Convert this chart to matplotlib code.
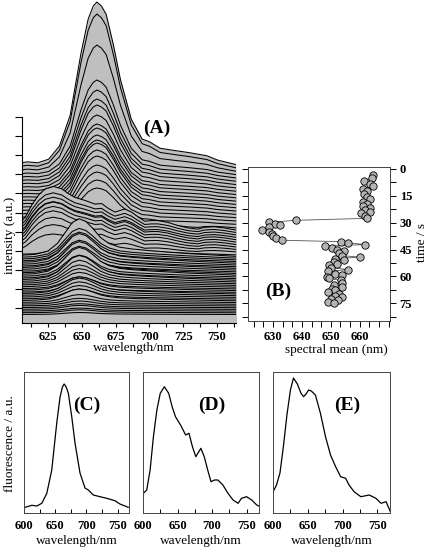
import numpy as np
import matplotlib
matplotlib.use("Agg")
import matplotlib.pyplot as plt
from matplotlib.ticker import MultipleLocator, FixedLocator, NullFormatter

plt.rcParams["font.family"] = ["Liberation Serif", "DejaVu Serif"]

W, H = 427, 549
GRAY_FILL = "#bfbfbf"
SPINE = "#444444"

# ---- single spectra (C), (D), (E) : wavelength (nm) / fluorescence (a.u.)
wl_c = [600, 606, 612.6, 620.5, 628.5, 636.5, 644.4, 652.4, 657.7, 661.5, 664.2,
        667.5, 671, 676.4, 681.6, 689.6, 697.6, 702.9, 710.9, 721.6, 732.3,
        745.5, 753.5, 766.8]
fl_c = [5.3, 6.5, 7.7, 7.0, 9.7, 19.7, 43, 90, 116, 126, 129,
        126, 119.7, 96.3, 70, 40, 25, 23, 18, 16.3, 14.7,
        12.3, 9.0, 5.7]

wl_d = [600.5, 605.4, 610.3, 615.1, 620.1, 625, 630.9, 637.2, 642.2, 647,
        654.4, 661.8, 666.6, 671.6, 676.5, 683.8, 688.7, 693.7, 698.5, 703.4,
        708.4, 715.7, 723.1, 730.4, 737.8, 742.6, 750, 757.4, 764.7, 769.6]
fl_d = [19.7, 23, 43, 76.3, 103, 119.7, 126.3, 119.7, 106.3, 96.3,
        88, 78, 79.7, 66.3, 56.3, 64.7, 56.3, 43, 31.3, 33,
        33, 28, 19.7, 13, 9.7, 14.7, 16.3, 13, 8, 6.3]

wl_e = [600, 605, 610, 614.9, 620, 625, 629.4, 635, 640, 643.9, 647.5, 651.2,
        655, 660.9, 668.1, 675.4, 682.6, 689.9, 697.1, 704.3, 709.2, 716.4,
        726.1, 738.2, 747.8, 755.1, 762.3, 768.6]
fl_e = [21, 28, 40, 66.3, 98, 123, 135, 129, 120, 116.3, 119, 123,
        122, 118, 99.7, 76.3, 58, 46.3, 36.3, 34.7, 28, 21.3,
        16.3, 18, 14.7, 9.7, 11.3, 1.3]

# ---- (A) waterfall: shape of the ~650 nm spectra read from the stack
wl_650 = [600, 615, 625, 632, 638, 643, 648, 653, 658, 664, 670, 678, 688,
          700, 715, 730, 745, 768]
fl_650 = [0.03, 0.06, 0.15, 0.35, 0.65, 0.9, 1.0, 0.93, 0.75, 0.5, 0.35,
          0.25, 0.2, 0.16, 0.12, 0.08, 0.05, 0.0]

# trace phase (0: 660 nm, 1: 628 nm, 2: 650 nm), baseline and peak height
trace_phase = [0] * 19 + [1] * 11 + [2] * 36
trace_base = [158, 154.7, 151.4, 148.1, 144.8, 141.5, 138.2, 134.9, 131.6,
              128.3, 125, 121.7, 118.4, 115.1, 111.8, 108.5, 105.2, 101.9, 98.6,
              95, 92.6, 90.2, 87.8, 85.4, 83, 80.6, 78.2, 75.8, 73.4, 71,
              68, 66.3, 64.6, 62.9, 61.2, 59.5, 57.8, 56.1, 54.4, 52.7, 51,
              49.3, 47.6, 45.9, 44.2, 42.5, 40.8, 39.1, 37.4, 35.7, 34, 32.3,
              30.6, 28.9, 27.2, 25.5, 23.8, 22.1, 20.4, 18.7, 17, 15.3, 13.6,
              11.9, 10.2, 8.5]
trace_amp = [163, 154.3, 126.6, 94.9, 88.2, 82.5, 79.8, 73.1, 67.4, 66.7, 63,
             61.3, 61.6, 57.9, 55.2, 49.5, 45.8, 41.1, 36.4,
             20, 44, 40, 38, 36, 38, 36, 34, 30, 25, 18,
             20, 38, 30, 28, 26, 30, 25, 22, 27, 24, 20, 24, 28, 22, 20, 25,
             22, 19, 17, 15, 12, 14, 10, 16, 14, 12, 10, 12, 8, 6, 5, 4, 4,
             3, 3, 2]
phase_shift = [-3, -2, 0]

# ---- (B) spectral mean versus time
t_mean = [3.6, 5.2, 7.0, 8.3, 9.8, 11.4, 12.6, 14.3, 15.5, 16.6, 18.5, 19.5,
          20.8, 21.6, 23.2, 24.2, 24.9, 26.3, 27.6,
          28.7, 29.8, 30.5, 31.4, 32.6, 34.0, 35.4, 36.5, 37.6, 38.8, 39.8,
          40.6, 41.3, 42.2, 43.1, 44.3, 45.0, 46.0, 47.0, 48.4, 49.2, 50.1,
          50.9, 51.7, 52.9, 53.7, 55.0, 56.2, 57.1, 58.4, 59.2, 60.3, 61.1,
          62.2, 63.6, 64.5, 65.6, 66.7, 67.8, 68.8, 69.8, 70.8, 71.6, 72.4,
          73.3, 74.1, 75.0]
s_mean = [664.5, 664.3, 661.5, 663.5, 664.5, 661.0, 662.5, 661.5, 662.5,
          663.5, 661.0, 662.5, 661.0, 663.5, 662.0, 663.5, 660.5, 662.0, 662.5,
          638.0, 628.5, 630.5, 632.5, 628.5, 626.0, 628.5, 629.5, 630.0,
          631.0, 633.0,
          653.5, 656.0, 662.0, 648.0, 650.5, 652.0, 654.5, 653.0, 654.0,
          660.0, 651.5, 654.5, 651.0, 652.0, 649.5, 650.0, 656.0, 649.0,
          651.5, 654.0, 648.5, 649.5, 653.5, 654.0, 651.0, 654.0, 650.5,
          651.5, 649.0, 653.0, 651.5, 654.0, 650.0, 652.5, 649.0, 651.0]


def px_axes(left, top, right, bottom):
    return fig.add_axes([left / W, 1 - bottom / H, (right - left) / W,
                         (bottom - top) / H])


def style_ticklabels(ax, size=9):
    for lab in ax.get_xticklabels() + ax.get_yticklabels():
        lab.set_fontweight("bold")
        lab.set_fontsize(size)


fig = plt.figure(figsize=(W / 100, H / 100), dpi=100)

# ---------------------------------------------------------------- (A)
axA = px_axes(22, 0, 236, 323)
templates = [(np.array(wl_c), np.array(fl_c)),
             (np.array(wl_d), np.array(fl_d)),
             (np.array(wl_650), np.array(fl_650))]
for j, (ph, base, amp) in enumerate(zip(trace_phase, trace_base, trace_amp)):
    wl, fl = templates[ph]
    shape = (fl - fl.min()) / (fl.max() - fl.min())
    x = wl + phase_shift[ph]
    y = base + amp * shape
    axA.fill_between(x, 0, y, color=GRAY_FILL, lw=0, zorder=2 * j + 1)
    axA.plot(x, y, color="black", lw=0.75, zorder=2 * j + 2)
axA.set_xlim(605.8, 764)
axA.set_ylim(0, 323)
for s in ("top", "right"):
    axA.spines[s].set_visible(False)
axA.spines["left"].set_bounds(0, 206)
axA.spines["left"].set_zorder(300)
axA.spines["bottom"].set_zorder(300)
axA.yaxis.set_major_locator(FixedLocator(list(np.arange(15, 207, 19.1))))
axA.yaxis.set_major_formatter(NullFormatter())
axA.xaxis.set_major_locator(MultipleLocator(25))
axA.xaxis.set_minor_locator(MultipleLocator(12.5))
axA.tick_params(axis="y", direction="out", length=5, width=0.8)
axA.tick_params(axis="x", which="both", direction="out", length=3, width=0.8,
                pad=3)
style_ticklabels(axA)
fig.text(134 / W, 1 - 348 / H, "wavelength/nm", fontsize=9.5,
         ha="center", va="center")
# (A) tag, in data units of the stack
axA.text(705.5, 195, "(A)", fontsize=14, fontweight="bold", ha="center",
         va="center", zorder=400)
fig.text(10 / W, 1 - 235 / H, "intensity (a.u.)", rotation=90,
         fontsize=9.5, ha="center", va="center")

# ---------------------------------------------------------------- (B)
axB = px_axes(248, 167, 390, 321)
axB.plot(s_mean, t_mean, color="#555555", lw=0.6, zorder=1)
axB.plot(s_mean, t_mean, ls="none", marker="o", ms=5.3, mfc="#b4b4b4",
         mec="black", mew=0.6, zorder=2)
axB.set_xlim(621.3, 670.5)
axB.set_ylim(84.8, -1)
axB.xaxis.set_major_locator(FixedLocator([630, 640, 650, 660]))
axB.xaxis.set_minor_locator(MultipleLocator(10 / 3))
axB.yaxis.set_major_locator(MultipleLocator(15))
axB.yaxis.set_minor_locator(MultipleLocator(7.5))
axB.yaxis.tick_right()
axB.yaxis.set_ticks_position("both")
axB.tick_params(axis="both", which="both", direction="out", length=4,
                width=0.7)
axB.tick_params(axis="x", which="both", pad=3)
axB.tick_params(axis="y", which="both", labelleft=False, labelright=True,
                pad=3)
for s in axB.spines.values():
    s.set_color(SPINE)
    s.set_linewidth(0.7)
style_ticklabels(axB)
fig.text(336 / W, 1 - 350 / H, "spectral mean (nm)", fontsize=9.5,
         ha="center", va="center")
fig.text(422 / W, 1 - 243 / H, "time / s", rotation=90, fontsize=9.5,
         ha="center", va="center")
axB.text(0.21, 0.19, "(B)", transform=axB.transAxes, fontsize=14,
         fontweight="bold", ha="center", va="center")

# ---------------------------------------------------------- (C) (D) (E)
boxes = [(24, 129), (143, 259), (273, 390)]
spectra = [(wl_c, fl_c, "(C)", 0.60), (wl_d, fl_d, "(D)", 0.59),
           (wl_e, fl_e, "(E)", 0.63)]
for (left, right), (wl, fl, tag, tx) in zip(boxes, spectra):
    ax = px_axes(left, 372, right, 513)
    ax.plot(wl, fl, color="black", lw=0.9)
    ax.set_xlim(600, 768)
    ax.set_ylim(0, 141)
    ax.set_yticks([])
    ax.xaxis.set_major_locator(MultipleLocator(50))
    ax.xaxis.set_minor_locator(MultipleLocator(25))
    ax.tick_params(axis="x", which="both", direction="in", length=3,
                   width=0.7, pad=5)
    for s in ax.spines.values():
        s.set_color(SPINE)
        s.set_linewidth(0.7)
    style_ticklabels(ax)
    ax.text(tx, 0.76, tag, transform=ax.transAxes, fontsize=14,
            fontweight="bold", ha="center", va="center")
    fig.text((left + right) / 2 / W, 1 - 541 / H, "wavelength/nm",
             fontsize=9.5, ha="center", va="center")

fig.text(10 / W, 1 - 444 / H, "fluorescence / a.u.", rotation=90,
         fontsize=9.5, ha="center", va="center")

fig.savefig("out.png", dpi=100)
